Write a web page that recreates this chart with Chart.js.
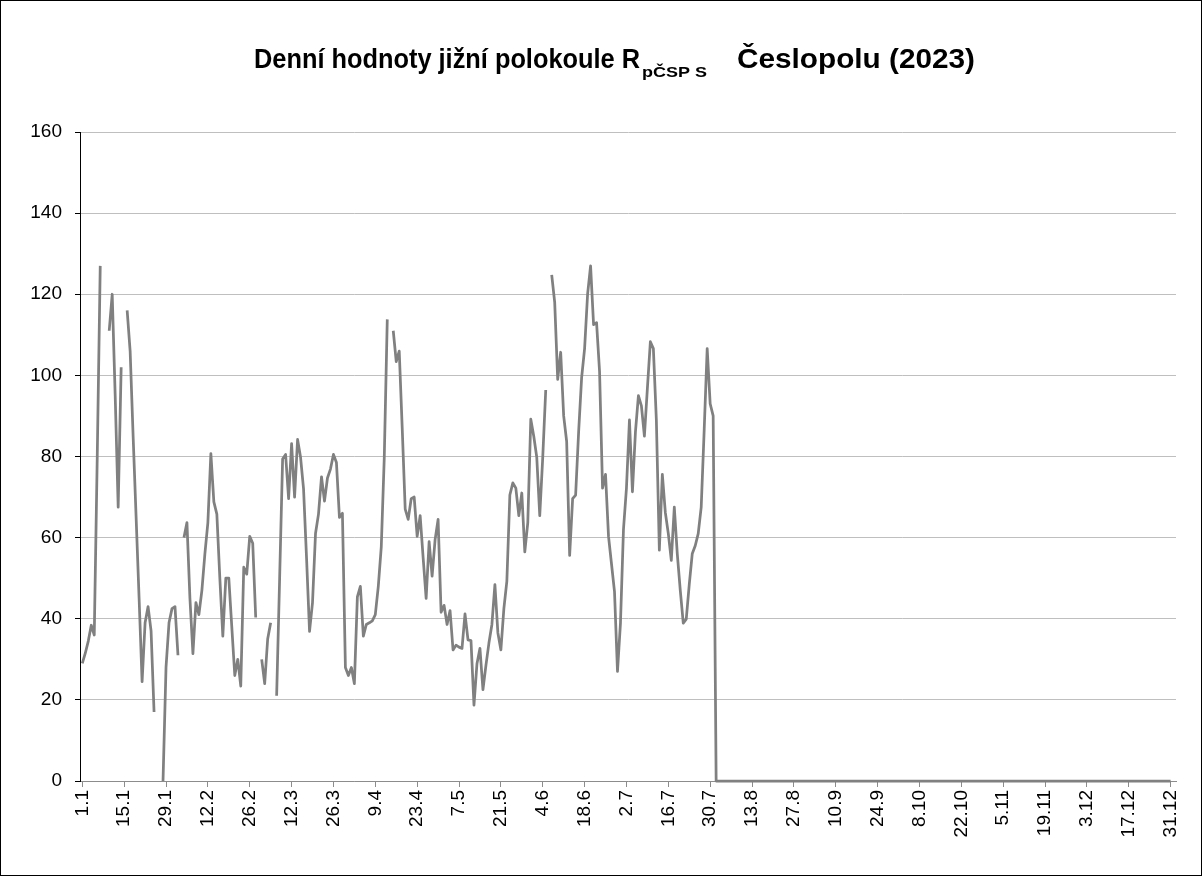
<!DOCTYPE html>
<html>
<head>
<meta charset="utf-8">
<title>Denní hodnoty jižní polokoule</title>
<script src="https://cdn.jsdelivr.net/npm/chart.js@4.4.0/dist/chart.umd.min.js"></script>
<style>
	body { margin: 0; background: #fff; }
	#box { width: 1200px; height: 874px; border: 1px solid #000; }
	canvas { display: block; }
</style>
</head>
<body>
<div id="box"><canvas id="myChart" width="1200" height="874"></canvas></div>
<script>
// title pieces (R with subscript)
var titleMain = "Denní hodnoty jižní polokoule R";
var titleSub = "pČSP S";
var titleEnd = "Česlopolu (2023)";

// y axis ticks
var yTicks = [0, 20, 40, 60, 80, 100, 120, 140, 160];

// every 14th day gets a label on the x axis
var labelStep = 14;

// daily values 1.1.2023 - 31.12.2023 (null = missing day)
var dailyValues = [
	29, 31.5, 34.5, 38.4, 36, 80, 127, null, null, 111,
	120, 95, 67.5, 102, null, 116, 106, 85, 65, 45,
	24.5, 39, 43, 37, 17, null, null, 0, 28, 39,
	42.5, 43, 31, null, 60, 63.7, 45, 31.4, 44, 41,
	47, 56, 63.7, 80.7, 68.8, 65.8, 50, 35.7, 50, 50,
	38, 26, 30, 23.4, 52.7, 51, 60.3, 58.6, 40.3, null,
	30, 24, 35, 39, null, 21, 50, 79.4, 80.5, 69.6,
	83.2, 70, 84.2, 79.8, 72, 55, 36.9, 44, 61, 65.8,
	75, 69, 74.7, 76.9, 80.5, 78.5, 65, 66, 28, 26,
	28, 24, 45.4, 48, 35.7, 38.6, 39, 39.5, 41, 48,
	57.8, 79.8, 113.8, null, 111, 103.4, 106, 87, 67, 64.5,
	69.6, 70, 60.3, 65.4, 55, 45, 59, 50.5, 59.5, 64.5,
	41.6, 43.3, 38.6, 42, 32.3, 33.5, 33, 32.7, 41.2, 34.8,
	34.6, 18.7, 28.9, 32.7, 22.5, 28.5, 34, 38.6, 48.4, 36.5,
	32.3, 42.5, 49.3, 70.5, 73.5, 72.2, 65.4, 71, 56.5, 63.7,
	89.2, 85, 79.8, 65.4, 79.8, 96.4, null, 124.8, 118, 99,
	105.7, 90, 83.7, 55.6, 69.6, 70.5, 86, 99.4, 106.6, 120,
	127, 112.5, 113, 101, 72.2, 75.6, 60.3, 53.5, 46.7, 27,
	39, 62, 72.2, 89, 71.3, 86, 95, 92.5, 85, 96.8,
	108.3, 106.6, 89, 56.9, 75.6, 66.2, 61, 54.4, 67.5, 56,
	47, 38.9, 39.9, 48.4, 56, 58, 61, 67.5, 86.6, 106.6,
	93, 90, 0, 0, 0, 0, 0, 0, 0, 0,
	0, 0, 0, 0, 0, 0, 0, 0, 0, 0,
	0, 0, 0, 0, 0, 0, 0, 0, 0, 0,
	0, 0, 0, 0, 0, 0, 0, 0, 0, 0,
	0, 0, 0, 0, 0, 0, 0, 0, 0, 0,
	0, 0, 0, 0, 0, 0, 0, 0, 0, 0,
	0, 0, 0, 0, 0, 0, 0, 0, 0, 0,
	0, 0, 0, 0, 0, 0, 0, 0, 0, 0,
	0, 0, 0, 0, 0, 0, 0, 0, 0, 0,
	0, 0, 0, 0, 0, 0, 0, 0, 0, 0,
	0, 0, 0, 0, 0, 0, 0, 0, 0, 0,
	0, 0, 0, 0, 0, 0, 0, 0, 0, 0,
	0, 0, 0, 0, 0, 0, 0, 0, 0, 0,
	0, 0, 0, 0, 0, 0, 0, 0, 0, 0,
	0, 0, 0, 0, 0, 0, 0, 0, 0, 0,
	0, 0, 0, 0, 0
];

// categories: every day of 2023 as "d.m"
var days = [];
for (var d = new Date(2023, 0, 1); d.getFullYear() === 2023; d.setDate(d.getDate() + 1)) {
	days.push(d.getDate() + "." + (d.getMonth() + 1));
}

// points for the line, day index on x
var points = dailyValues.map(function(v, i) {
	return { x: i, y: v };
});

var fontName = '"Liberation Sans", Arial, sans-serif';

// draws text squeezed into the given horizontal span
function drawFit(ctx, text, font, x0, x1, y) {
	ctx.font = font;
	var w = ctx.measureText(text).width;
	ctx.save();
	ctx.translate(x0, y);
	ctx.scale((x1 - x0) / w, 1);
	ctx.fillText(text, 0, 0);
	ctx.restore();
}

var titlePlugin = {
	id: "titleWithSub",
	beforeDraw: function(chart) {
		var ctx = chart.ctx;
		ctx.save();
		ctx.fillStyle = "#fff";
		ctx.fillRect(0, 0, chart.width, chart.height);
		ctx.restore();
	},
	afterDraw: function(chart) {
		var ctx = chart.ctx;
		ctx.save();
		ctx.fillStyle = "#000";
		ctx.textBaseline = "alphabetic";
		drawFit(ctx, titleMain, "bold 27px " + fontName, 253, 639, 67);
		drawFit(ctx, titleSub, "bold 15px " + fontName, 641, 706, 76);
		drawFit(ctx, titleEnd, "bold 27px " + fontName, 736, 974, 67);
		ctx.restore();
	}
};

new Chart("myChart", {
	type: "line",
	data: {
		datasets: [{
			data: points,
			borderColor: "#808080",
			borderWidth: 2.75,
			borderJoinStyle: "round",
			pointRadius: 0,
			tension: 0,
			spanGaps: false,
			clip: false
		}]
	},
	options: {
		responsive: false,
		animation: false,
		layout: {
			padding: { top: 131, right: 25, left: 0, bottom: 0 }
		},
		plugins: {
			legend: { display: false },
			title: { display: false },
			tooltip: { enabled: false }
		},
		scales: {
			x: {
				type: "linear",
				// a little room on both sides of the first and last day
				min: -0.77,
				max: 365.8,
				border: { color: "#8c8c8c", width: 1 },
				grid: {
					drawOnChartArea: false,
					tickLength: 6,
					color: "#8c8c8c"
				},
				ticks: {
					stepSize: labelStep,
					includeBounds: false,
					autoSkip: false,
					minRotation: 90,
					maxRotation: 90,
					padding: 3,
					color: "#000",
					font: { family: fontName, size: 19 },
					callback: function(value) {
						return days[value] || "";
					}
				},
				afterFit: function(scale) { scale.height = 94; }
			},
			y: {
				min: yTicks[0],
				max: yTicks[yTicks.length - 1],
				border: { color: "#000", width: 1 },
				grid: { color: "#bfbfbf", tickColor: "#000", tickLength: 5 },
				ticks: {
					stepSize: yTicks[1] - yTicks[0],
					padding: 13,
					color: "#000",
					font: { family: fontName, size: 19 }
				},
				afterFit: function(scale) { scale.width = 79; }
			}
		}
	},
	plugins: [titlePlugin]
});
</script>
</body>
</html>
